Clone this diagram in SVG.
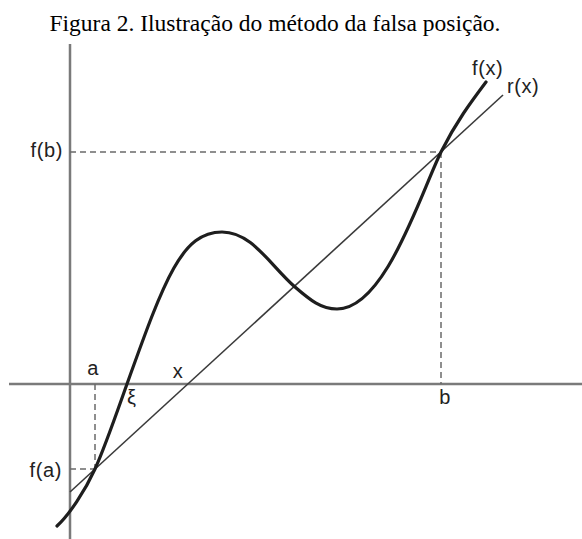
<svg xmlns="http://www.w3.org/2000/svg" width="582" height="539" viewBox="0 0 582 539">
<style>
.axis{stroke:#7a7a7a;stroke-width:2.5;fill:none}
.dash{stroke:#6a6a6a;stroke-width:1.5;stroke-dasharray:6 4;fill:none}
.curve{stroke:#1e1e1e;stroke-width:3.2;fill:none;stroke-linecap:round}
.line{stroke:#3a3a3a;stroke-width:1.6;fill:none}
.lbl{font-family:"Liberation Sans",Arial,sans-serif;font-size:20px;letter-spacing:0.6px;fill:#222}
.title{font-family:"Liberation Serif","Times New Roman",serif;font-size:23.5px;fill:#000}
</style>
<rect width="582" height="539" fill="#fff"/>
<text class="title" x="275" y="31" text-anchor="middle">Figura 2. Ilustração do método da falsa posição.</text>
<g id="axes">
<line class="axis" x1="9" y1="384" x2="582" y2="384"/>
<line class="axis" x1="70" y1="44" x2="70" y2="539"/>
</g>
<g id="connectors">
<line class="dash" x1="70" y1="152" x2="441" y2="152"/>
<line class="dash" x1="441" y1="152" x2="441" y2="384"/>
<line class="dash" x1="95" y1="384" x2="95" y2="469"/>
<line class="dash" x1="70" y1="469" x2="95" y2="469"/>
</g>
<g id="r-line">
<line class="line" x1="70" y1="492" x2="503" y2="95"/>
</g>
<g id="f-curve">
<path class="curve" d="M57,526 C69,515 85,491 95,469 C105,447 117,412 127,384 C165,278 182,232 222,232 C252,232 270,265 295,287 C310,300 321,309 337,309 C385,309 420,195 441,152 C456,122 471,102 486,82"/>
</g>
<g id="labels">
<text class="lbl" x="63" y="157" text-anchor="end">f(b)</text>
<text class="lbl" x="62" y="477" text-anchor="end">f(a)</text>
<text class="lbl" x="93" y="375" text-anchor="middle">a</text>
<text class="lbl" x="127" y="404">ξ</text>
<text class="lbl" x="178" y="378" text-anchor="middle">x</text>
<text class="lbl" x="445" y="404" text-anchor="middle">b</text>
<text class="lbl" x="472" y="75">f(x)</text>
<text class="lbl" x="507" y="93">r(x)</text>
</g>
</svg>
